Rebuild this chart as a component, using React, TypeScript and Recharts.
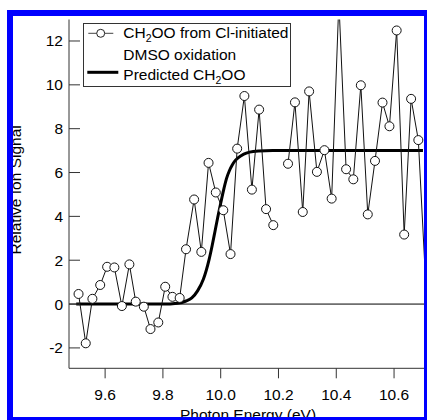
import React from 'react';
import { LineChart, Line, XAxis, YAxis, ReferenceLine, Legend } from 'recharts';

const FONT = '"Liberation Sans", Arial, Helvetica, sans-serif';
const FS = 15.5;

// Measured CH2OO signal vs photon energy (null = no measurement)
const photonEnergy = [
  9.508, 9.533, 9.556, 9.583, 9.607, 9.632, 9.658, 9.684, 9.706, 9.734,
  9.757, 9.784, 9.808, 9.833, 9.858, 9.88, 9.908, 9.933, 9.958, 9.983,
  10.009, 10.034, 10.057, 10.082, 10.108, 10.133, 10.157, 10.182, 10.207, 10.233,
  10.257, 10.284, 10.306, 10.333, 10.359, 10.384, 10.409, 10.434, 10.459, 10.485,
  10.509, 10.534, 10.56, 10.584, 10.609, 10.635, 10.659, 10.684, 10.709,
];
const ionSignal: (number | null)[] = [
  0.46, -1.79, 0.24, 0.87, 1.7, 1.67, -0.09, 1.81, 0.11, -0.12,
  -1.14, -0.84, 0.79, 0.33, 0.28, 2.5, 4.77, 2.38, 6.44, 5.09,
  4.28, 2.28, 7.09, 9.49, 5.22, 8.87, 4.33, 3.6, null, 6.4,
  9.2, 4.2, 9.7, 6.03, 7.02, 4.81, 13.8, 6.15, 5.69, 9.98,
  4.09, 6.53, 9.19, 8.11, 12.48, 3.17, 9.36, 7.48, 1.1,
];

// Predicted CH2OO onset curve
const predictedEnergy = [
  9.5, 9.8, 9.85, 9.88, 9.9, 9.92, 9.94, 9.96, 9.97, 9.98, 9.99, 10.0,
  10.01, 10.02, 10.03, 10.04, 10.05, 10.06, 10.08, 10.1, 10.13, 10.18, 10.7,
];
const predictedSignal = [
  0, 0, 0.04, 0.14, 0.28, 0.6, 1.13, 2.04, 2.64, 3.3, 3.97, 4.6,
  5.2, 5.72, 6.08, 6.34, 6.54, 6.67, 6.84, 6.93, 6.98, 7.0, 7.0,
];

const energyTicks = [9.6, 9.8, 10.0, 10.2, 10.4, 10.6];
const signalTicks = [-2, 0, 2, 4, 6, 8, 10, 12];

// markers are only drawn for energies inside the frame
const MARKER_MAX_ENERGY = 10.7;

const measured = photonEnergy.map((x, i) => ({ x, y: ionSignal[i] }));
const predicted = predictedEnergy.map((x, i) => ({ x, y: predictedSignal[i] }));

const AXIS = '#333';

const LeftTick = (props: any) => {
  const { x, y, payload } = props;
  return (
    <g>
      <line x1={x + 6} x2={x + 17} y1={y} y2={y} stroke={AXIS} strokeWidth={1} />
      <text x={x} y={y} dy="0.355em" textAnchor="end" fontSize={FS} fontFamily={FONT} fill="#000">
        {payload.value}
      </text>
    </g>
  );
};

const RightTick = (props: any) => {
  const { x, y } = props;
  return <line x1={x - 11} x2={x} y1={y} y2={y} stroke={AXIS} strokeWidth={1} />;
};

const Marker = (props: any) => {
  const { cx, cy, payload, index } = props;
  if (payload == null || payload.y == null || payload.x > MARKER_MAX_ENERGY || cx == null || cy == null) {
    return <g key={`m-${index}`} />;
  }
  return <circle key={`m-${index}`} cx={cx} cy={cy} r={4.5} fill="#fff" stroke="#111" strokeWidth={1} />;
};

const YTitle = (props: any) => {
  const vb = props && props.viewBox ? props.viewBox : { y: 19.5, height: 348.8 };
  const cy = vb.y + vb.height / 2 - 4;
  return (
    <text
      x={21}
      y={cy}
      transform={`rotate(-90 21 ${cy})`}
      textAnchor="middle"
      fontSize={FS}
      fontFamily={FONT}
      fill="#000"
    >
      Relative Ion Signal
    </text>
  );
};

const XTitle = (props: any) => {
  const vb = props && props.viewBox ? props.viewBox : { x: 69, y: 368.3, width: 358 };
  return (
    <text
      x={vb.x + vb.width / 2}
      y={vb.y + 52}
      textAnchor="middle"
      fontSize={FS}
      fontFamily={FONT}
      fill="#000"
    >
      Photon Energy (eV)
    </text>
  );
};

const LegendBox = () => (
  <div
    style={{
      width: 208,
      height: 64,
      border: '1px solid #333',
      boxSizing: 'border-box',
      background: '#fff',
    }}
  >
    <svg width={206} height={62} style={{ display: 'block', overflow: 'visible' }}>
      <g transform="translate(-1,-1)">
        <line x1={5.3} x2={30.3} y1={10.3} y2={10.3} stroke="#444" strokeWidth={1} />
        <circle cx={17.7} cy={10.3} r={4} fill="#fff" stroke="#222" strokeWidth={1} />
        <text x={40.3} y={14.7} fontSize={FS} fontFamily={FONT} fill="#000">
          CH<tspan fontSize={10.5} dy={4}>2</tspan>
          <tspan dy={-4}>OO from Cl-initiated</tspan>
        </text>
        <text x={40.3} y={37} fontSize={FS} fontFamily={FONT} fill="#000">
          DMSO oxidation
        </text>
        <line x1={4.3} x2={35.3} y1={49.3} y2={49.3} stroke="#000" strokeWidth={3} />
        <text x={40.3} y={56.5} fontSize={FS} fontFamily={FONT} fill="#000">
          Predicted CH<tspan fontSize={10.5} dy={4}>2</tspan>
          <tspan dy={-4}>OO</tspan>
        </text>
      </g>
    </svg>
  </div>
);

const BLUE = '#0000ff';

export default function App() {
  return (
    <div
      style={{
        position: 'absolute',
        left: 0,
        top: 0,
        width: 427,
        height: 420,
        background: '#fff',
        overflow: 'hidden',
      }}
    >
      <LineChart
        width={427}
        height={420}
        margin={{ top: 19.5, right: 0, bottom: 21.7, left: 9 }}
      >
        <XAxis
          type="number"
          dataKey="x"
          domain={[9.475, 10.714]}
          allowDataOverflow
          ticks={energyTicks}
          tickFormatter={(v: number) => v.toFixed(1)}
          tickSize={10}
          tickMargin={11}
          height={30}
          stroke={AXIS}
          tick={{ fill: '#000', fontSize: FS, fontFamily: FONT }}
          label={XTitle}
        />
        <YAxis
          yAxisId="left"
          type="number"
          dataKey="y"
          domain={[-2.93, 12.98]}
          allowDataOverflow
          ticks={signalTicks}
          width={60}
          tickSize={0}
          tickMargin={6}
          tickLine={false}
          stroke={AXIS}
          tick={LeftTick}
          label={YTitle}
        />
        <YAxis
          yAxisId="right"
          orientation="right"
          type="number"
          domain={[-2.93, 12.98]}
          allowDataOverflow
          ticks={signalTicks}
          width={0}
          tickSize={0}
          tickMargin={0}
          tickLine={false}
          stroke={AXIS}
          tick={RightTick}
        />
        <ReferenceLine yAxisId="left" y={0} stroke="#000" strokeWidth={1} ifOverflow="hidden" />
        <Line
          yAxisId="left"
          name="Predicted CH2OO"
          data={predicted}
          dataKey="y"
          type="monotone"
          stroke="#000"
          strokeWidth={3}
          dot={false}
          isAnimationActive={false}
        />
        <Line
          yAxisId="left"
          name="CH2OO from Cl-initiated DMSO oxidation"
          data={measured}
          dataKey="y"
          type="linear"
          stroke="#111"
          strokeWidth={1}
          connectNulls={false}
          dot={Marker}
          isAnimationActive={false}
        />
        <Legend
          layout="vertical"
          align="center"
          verticalAlign="middle"
          content={LegendBox}
          wrapperStyle={{ position: 'absolute', left: 83, top: 23, width: 208, height: 64 }}
        />
      </LineChart>
      {/* blue frame */}
      <div style={{ position: 'absolute', left: 7, top: 10, width: 6, height: 410, background: BLUE }} />
      <div style={{ position: 'absolute', left: 7, top: 10, width: 420, height: 6, background: BLUE }} />
      <div style={{ position: 'absolute', left: 424, top: 10, width: 3, height: 410, background: BLUE }} />
      <div style={{ position: 'absolute', left: 7, top: 417, width: 420, height: 3, background: BLUE }} />
    </div>
  );
}
